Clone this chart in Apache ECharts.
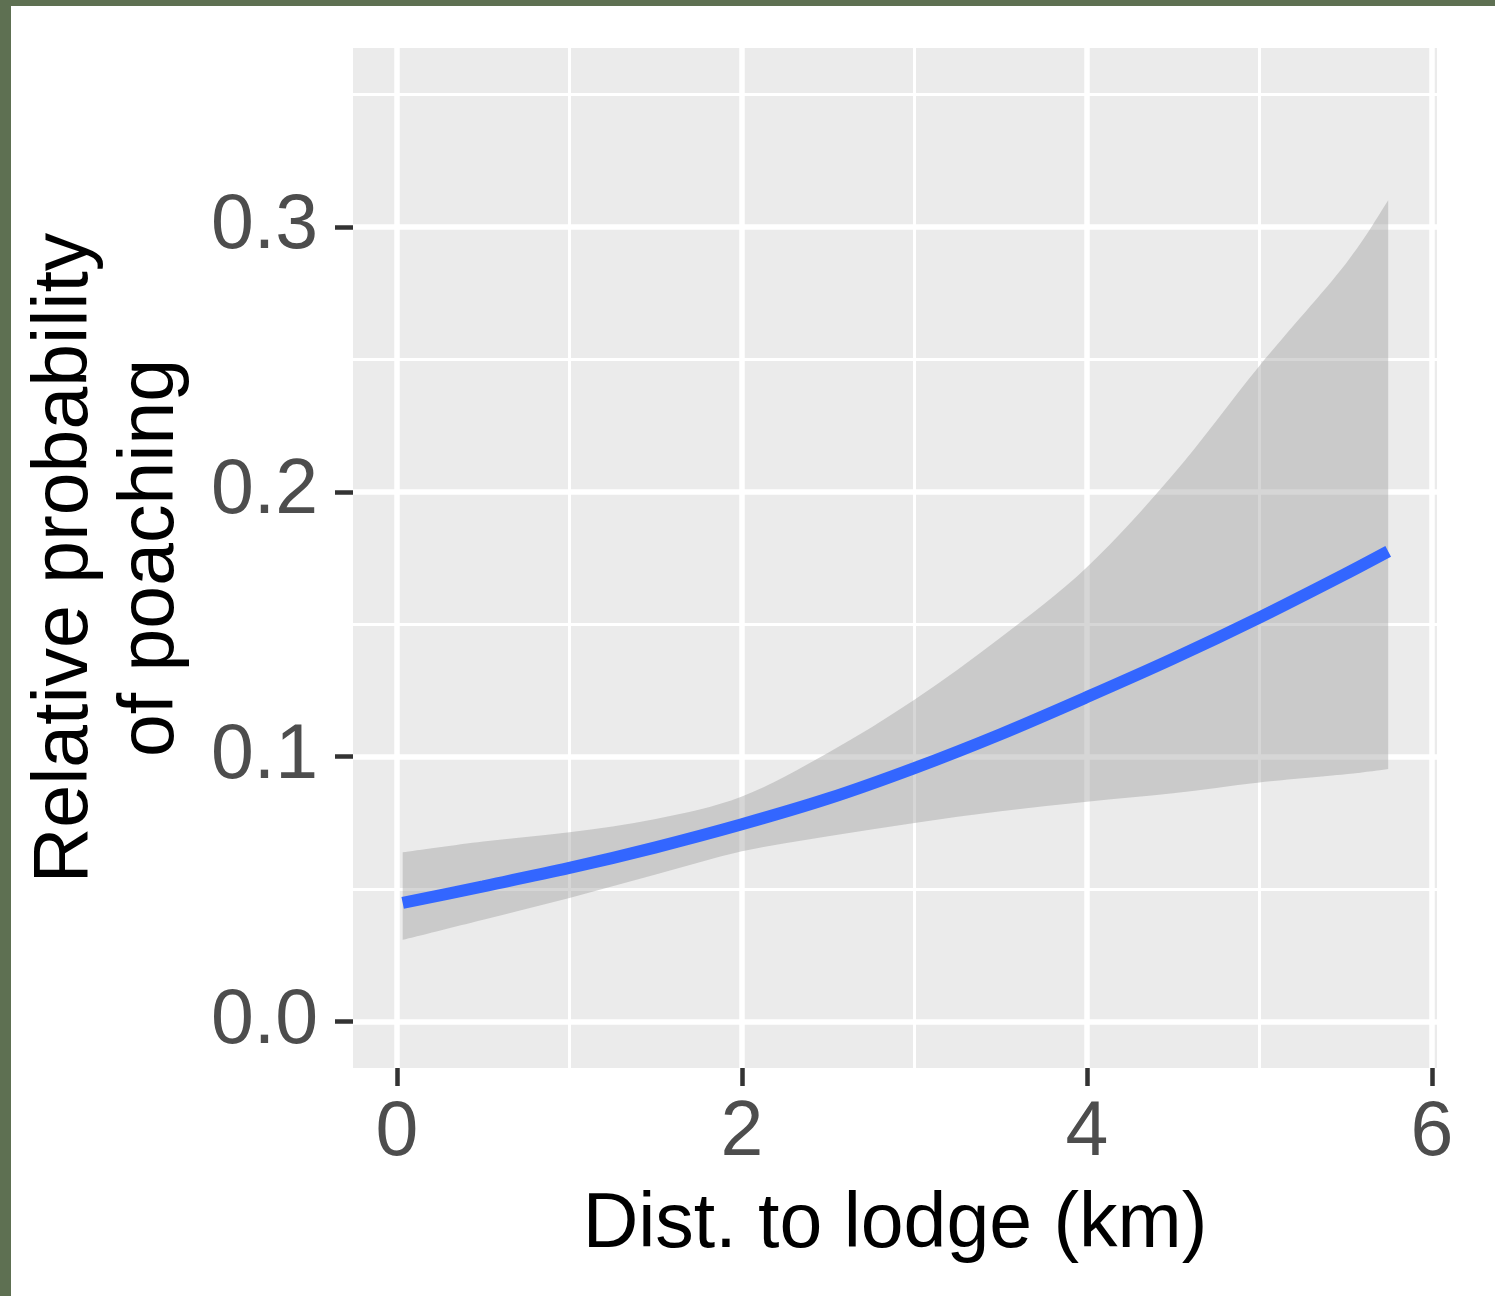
<!DOCTYPE html>
<html>
<head>
<meta charset="utf-8">
<script src="https://cdn.jsdelivr.net/npm/echarts@6.0.0/dist/echarts.min.js"></script>
<style>
html, body { margin: 0; padding: 0; background: #ffffff; }
#chart { position: absolute; left: 0; top: 0; width: 1495px; height: 1296px; }
.frame { position: absolute; background: #5E7052; z-index: 10; }
</style>
</head>
<body>
<div id="chart"></div>
<div class="frame" style="left:0;top:0;width:1495px;height:6px"></div>
<div class="frame" style="left:0;top:0;width:11px;height:1296px"></div>
<script>
// ---- data ----
const distKm   = [0.033, 0.5, 1, 1.5, 2, 2.5, 3, 3.5, 4, 4.5, 5, 5.5, 5.747];
const fitProb  = [0.0448, 0.0511, 0.0580, 0.0658, 0.0745, 0.0842, 0.0957, 0.1085, 0.1225, 0.1370, 0.1525, 0.1690, 0.1775];
const lowerCI  = [0.0309, 0.0385, 0.0467, 0.0555, 0.0643, 0.0700, 0.0750, 0.0794, 0.0830, 0.0862, 0.0903, 0.0934, 0.0954];
const upperCI  = [0.0639, 0.0680, 0.0715, 0.0765, 0.0850, 0.1015, 0.1215, 0.1450, 0.1715, 0.2065, 0.2475, 0.2860, 0.3100];

const xTicks      = [0, 2, 4, 6];
const xMinorGrid  = [1, 3, 5];
const yTicks      = [0, 0.1, 0.2, 0.3];
const yMinorGrid  = [0.05, 0.15, 0.25, 0.35];

const xTitle = 'Dist. to lodge (km)';
const yTitle = 'Relative probability\nof poaching';

// ---- build options ----
const FONT = 'Liberation Sans, Arial, Helvetica, sans-serif';
const fitData = distKm.map((x, i) => [x, fitProb[i]]);
const bandRows = distKm.map((x, i) => [x, lowerCI[i], upperCI[i]]);

const gridLines = [];
xTicks.forEach(v => gridLines.push({ xAxis: v, lineStyle: { color: '#ffffff', width: 5.5, type: 'solid' } }));
xMinorGrid.forEach(v => gridLines.push({ xAxis: v, lineStyle: { color: '#ffffff', width: 3, type: 'solid' } }));
yTicks.forEach(v => gridLines.push({ yAxis: v, lineStyle: { color: '#ffffff', width: 5.5, type: 'solid' } }));
yMinorGrid.forEach(v => gridLines.push({ yAxis: v, lineStyle: { color: '#ffffff', width: 3, type: 'solid' } }));

// Catmull-Rom spline through pixel points -> cubic bezier path segments
function splineSegs(pts) {
  let d = '';
  for (let i = 0; i < pts.length - 1; i++) {
    const p0 = pts[i - 1] || pts[i];
    const p1 = pts[i];
    const p2 = pts[i + 1];
    const p3 = pts[i + 2] || pts[i + 1];
    const c1x = p1[0] + (p2[0] - p0[0]) / 6, c1y = p1[1] + (p2[1] - p0[1]) / 6;
    const c2x = p2[0] - (p3[0] - p1[0]) / 6, c2y = p2[1] - (p3[1] - p1[1]) / 6;
    d += ' C' + c1x + ' ' + c1y + ' ' + c2x + ' ' + c2y + ' ' + p2[0] + ' ' + p2[1];
  }
  return d;
}

function renderBand(params, api) {
  if (params.dataIndex !== 0) return null;
  const up = bandRows.map(r => api.coord([r[0], r[2]]));
  const lo = bandRows.map(r => api.coord([r[0], r[1]])).reverse();
  let d = 'M' + up[0][0] + ' ' + up[0][1] + splineSegs(up);
  d += ' L' + lo[0][0] + ' ' + lo[0][1] + splineSegs(lo) + ' Z';
  return {
    type: 'path',
    shape: { pathData: d },
    style: { fill: 'rgba(153,153,153,0.4)', stroke: null }
  };
}

const chart = echarts.init(document.getElementById('chart'), null, { renderer: 'canvas' });
chart.setOption({
  animation: false,
  backgroundColor: 'transparent',
  grid: {
    left: 353, right: 58, top: 48, bottom: 228,
    show: true, backgroundColor: '#EBEBEB', borderWidth: 0
  },
  xAxis: {
    type: 'value',
    min: -0.255, max: 6.03,
    name: xTitle,
    nameLocation: 'middle',
    nameGap: 119,
    nameTextStyle: { fontFamily: FONT, fontSize: 77, color: '#000000', verticalAlign: 'top', lineHeight: 77 },
    axisLine: { show: true, onZero: false, lineStyle: { color: 'rgba(0,0,0,0)', width: 0.01 } },
    axisTick: { show: true, inside: false, customValues: xTicks, length: 18, lineStyle: { color: '#333333', width: 4.5 } },
    axisLabel: { show: true, customValues: xTicks, margin: 27, fontFamily: FONT, fontSize: 77, color: '#4D4D4D', lineHeight: 77,
                 formatter: v => String(v) },
    splitLine: { show: false },
    minorSplitLine: { show: false }
  },
  yAxis: {
    type: 'value',
    min: -0.0175, max: 0.3675,
    name: yTitle,
    nameLocation: 'middle',
    nameRotate: 90,
    nameGap: 244,
    nameTextStyle: { fontFamily: FONT, fontSize: 77, color: '#000000', lineHeight: 86, align: 'center', verticalAlign: 'middle' },
    axisLine: { show: true, onZero: false, lineStyle: { color: 'rgba(0,0,0,0)', width: 0.01 } },
    axisTick: { show: true, inside: false, customValues: yTicks, length: 18, lineStyle: { color: '#333333', width: 4.5 } },
    axisLabel: { show: true, customValues: yTicks, margin: 35, fontFamily: FONT, fontSize: 77, color: '#4D4D4D',
                 formatter: v => Number(v).toFixed(1) },
    splitLine: { show: false },
    minorSplitLine: { show: false }
  },
  series: [
    {
      name: 'band',
      type: 'custom',
      data: bandRows,
      encode: { x: 0, y: [1, 2] },
      renderItem: renderBand,
      silent: true,
      clip: true,
      z: 3
    },
    {
      name: 'fit',
      type: 'line',
      data: fitData,
      smooth: 0.3,
      symbol: 'none',
      silent: true,
      z: 4,
      lineStyle: { color: '#3366FF', width: 12, cap: 'butt' },
      markLine: {
        z: 1,
        silent: true,
        symbol: ['none', 'none'],
        label: { show: false },
        emphasis: { disabled: true },
        animation: false,
        data: gridLines
      }
    }
  ]
});
</script>
</body>
</html>
